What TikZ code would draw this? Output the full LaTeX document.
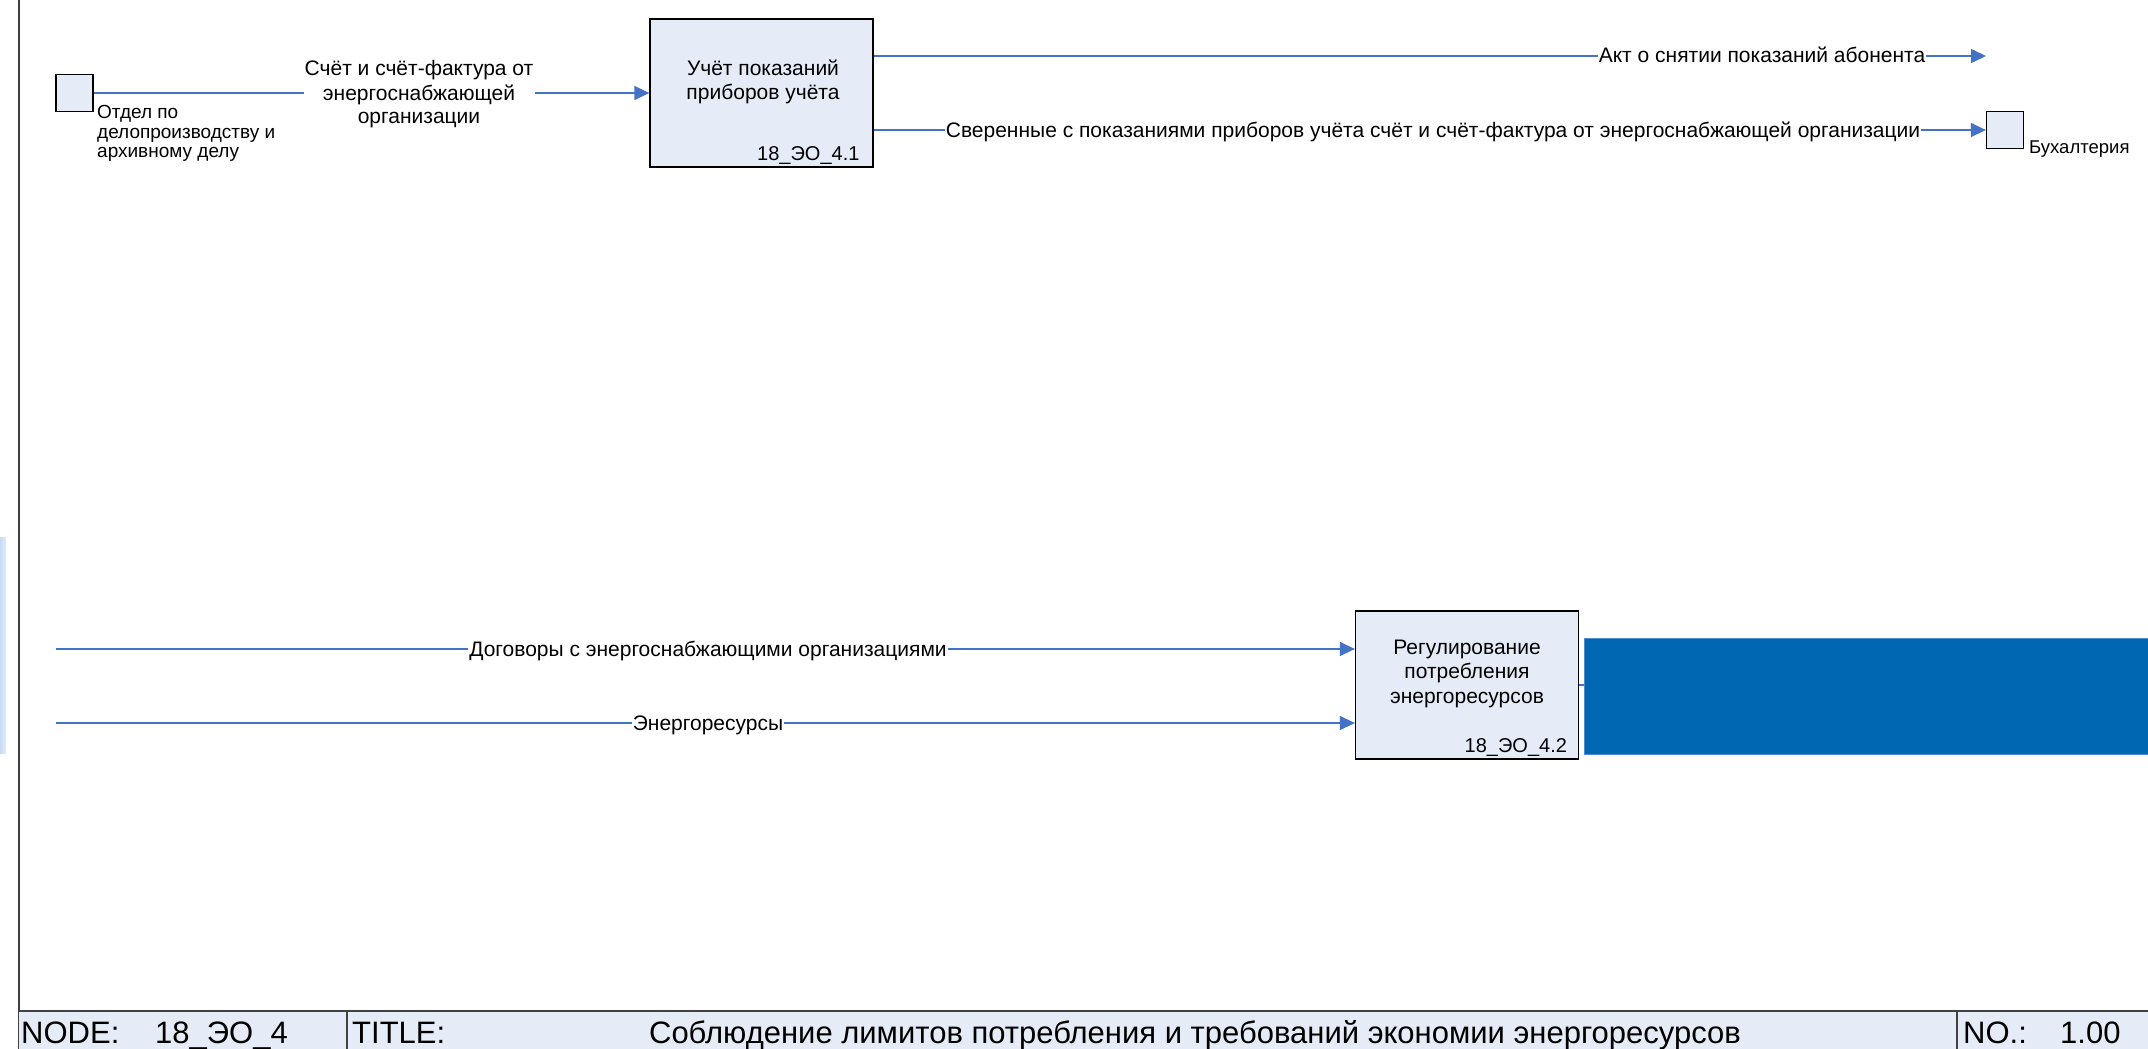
\documentclass[tikz,border=0pt]{standalone}
\usepackage{fontspec}
\setmainfont{Liberation Sans}
\usetikzlibrary{arrows.meta,calc}

\definecolor{flowblue}{RGB}{68,114,196}
\definecolor{boxfill}{RGB}{230,236,247}
\definecolor{framegray}{RGB}{64,64,64}
\definecolor{deepblue}{RGB}{0,103,178}
\definecolor{edgeblue}{RGB}{80,140,205}
\definecolor{stripA}{RGB}{200,218,246}
\definecolor{stripB}{RGB}{226,237,252}

\begin{document}
\begin{tikzpicture}[x=1pt,y=-1pt,
  flow/.style={draw=flowblue,line width=1.4pt,-{Triangle[length=15pt,width=14pt]}},
  plainflow/.style={draw=flowblue,line width=1.4pt},
  actbox/.style={draw=black,line width=1.3pt,fill=boxfill,minimum width=223pt,minimum height=148pt,inner sep=0pt},
  tunnel/.style={draw=black,line width=1.3pt,fill=boxfill,minimum width=37pt,minimum height=37pt,inner sep=0pt},
  boxtext/.style={font=\fontsize{21}{24}\selectfont,anchor=base,inner sep=0pt},
  idtext/.style={font=\fontsize{20}{24}\selectfont,anchor=base east,inner sep=0pt},
  arrowlabel/.style={font=\fontsize{21}{24}\selectfont,anchor=base,fill=white,inner xsep=1pt,inner ysep=1pt},
  linetext/.style={font=\fontsize{21}{24}\selectfont,anchor=base,inner xsep=1pt,inner ysep=0pt},
  tunneltext/.style={font=\fontsize{18.5}{20}\selectfont,anchor=base west,inner sep=0pt},
  bartext/.style={font=\fontsize{31}{36}\selectfont,inner sep=0pt},
]
\useasboundingbox (0,0) rectangle (2148,1049);
\fill[white] (0,0) rectangle (2148,1049);

% faint strip on the left edge
\shade[left color=stripA,right color=stripB] (0,537) rectangle (6,753);

% left frame line
\draw[framegray,line width=2pt] (19,0) -- (19,1049);

% title bar
\fill[boxfill] (19,1011) rectangle (2148,1049);
\draw[framegray,line width=1.6pt] (19,1011) -- (2148,1011);
\draw[framegray,line width=1.3pt] (347,1011) -- (347,1049);
\draw[framegray,line width=1.3pt] (1957,1011) -- (1957,1049);
\node[bartext,anchor=base west] (nodelbl) at (21,1043) {NODE:};
\node[bartext,anchor=base west] (nodeid) at (155,1043) {18\_ЭО\_4};
\node[bartext,anchor=base west] (titlelbl) at (352,1043) {TITLE:};
\node[bartext,anchor=base] (titletxt) at (1195,1043) {Соблюдение лимитов потребления и требований экономии энергоресурсов};
\node[bartext,anchor=base west] (nolbl) at (1963,1043) {NO.:};
\node[bartext,anchor=base west] (noval) at (2060,1043) {1.00};

% activity boxes and tunnels
\node[actbox] (a41) at (761.5,93) {};
\node[actbox] (a42) at (1467,685) {};
\node[tunnel] (dept) at (74.5,93) {};
\node[tunnel] (acct) at (2005,130) {};
\node[fill=deepblue,draw=edgeblue,line width=1pt,anchor=north west,minimum width=566pt,minimum height=116pt,inner sep=0pt] (sink) at (1584,638) {};

% box texts
\node[boxtext] (t41a) at ($(a41.north)+(1.5,57)$) {Учёт показаний};
\node[boxtext] (t41b) at ($(a41.north)+(1.5,81)$) {приборов учёта};
\node[idtext] (id41) at ($(a41.north east)+(-14,142)$) {18\_ЭО\_4.1};
\node[boxtext] (t42a) at ($(a42.north)+(0,44)$) {Регулирование};
\node[boxtext] (t42b) at ($(a42.north)+(0,68)$) {потребления};
\node[boxtext] (t42c) at ($(a42.north)+(0,93)$) {энергоресурсов};
\node[idtext] (id42) at ($(a42.north east)+(-12,142)$) {18\_ЭО\_4.2};

% tunnel labels
\node[tunneltext,font=\fontsize{19}{20}\selectfont] (deptA) at (97,118) {Отдел по};
\node[tunneltext,font=\fontsize{19}{20}\selectfont] (deptB) at (97,138) {делопроизводству и};
\node[tunneltext,font=\fontsize{19}{20}\selectfont] (deptC) at (97,157) {архивному делу};
\node[tunneltext] (acctlbl) at (2029,153) {Бухалтерия};

% input to 4.1 with a three-line label
\node[linetext] (inA) at (419,76) {Счёт и счёт-фактура от};
\node[linetext] (inB) at (419,100) {энергоснабжающей};
\node[linetext] (inC) at (419,124) {организации};
\draw[plainflow] (dept.east) -- (dept.east -| inA.west);
\draw[flow] (dept.east -| inA.east) -- (dept.east -| a41.west);

% outputs of 4.1
\coordinate (actend) at (1986,56);
\draw[flow] (a41.east |- actend) -- (actend);
\draw[flow] (a41.east |- acct.west) -- (acct.west);
\node[arrowlabel] (outA) at (1762,63) {Акт о снятии показаний абонента};
\node[arrowlabel] (outB) at (1433,137) {Сверенные с показаниями приборов учёта счёт и счёт-фактура от энергоснабжающей организации};

% inputs to 4.2
\coordinate (contr) at (56,649);
\coordinate (energy) at (56,723);
\draw[flow] (contr) -- (contr -| a42.west);
\draw[flow] (energy) -- (energy -| a42.west);
\node[arrowlabel] (inD) at (708,656) {Договоры с энергоснабжающими организациями};
\node[arrowlabel] (inE) at (708,730) {Энергоресурсы};

% output of 4.2 into the filled block
\draw[plainflow] (a42.east) -- (a42.east -| sink.west);
\end{tikzpicture}
\end{document}
